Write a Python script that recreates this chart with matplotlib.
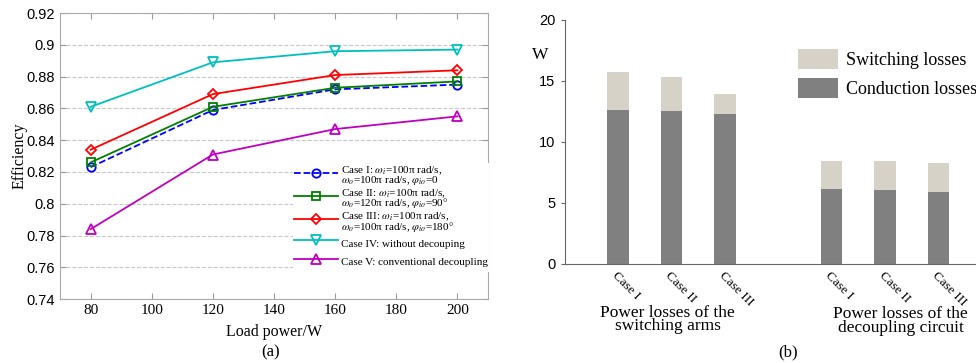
import numpy as np
import matplotlib.pyplot as plt

# data
load_power = [80, 120, 160, 200]
eff_case1 = [0.823, 0.859, 0.872, 0.875]
eff_case2 = [0.826, 0.861, 0.873, 0.877]
eff_case3 = [0.834, 0.869, 0.881, 0.884]
eff_case4 = [0.861, 0.889, 0.896, 0.897]
eff_case5 = [0.784, 0.831, 0.847, 0.855]

bar_pos = [1, 2, 3, 5, 6, 7]
bar_labels = ['Case I', 'Case II', 'Case III', 'Case I', 'Case II', 'Case III']
conduction = [12.6, 12.5, 12.3, 6.15, 6.05, 5.9]
switching = [3.1, 2.8, 1.6, 2.25, 2.35, 2.35]

serif = 'Liberation Serif'
sans = 'Liberation Sans'
plt.rcParams['mathtext.fontset'] = 'stix'

fig = plt.figure(figsize=(9.76, 3.63), dpi=100)

# (a) efficiency
ax1 = fig.add_axes([0.0615, 0.176, 0.4385, 0.788])
lw, ms = 1.3, 6
ax1.plot(load_power, eff_case1, '--o', color='#0000ff', lw=lw, ms=ms, mfc='none', mew=1.3,
         label='Case I: $\\omega_i$=100π rad/s,\n$\\omega_o$=100π rad/s, $\\varphi_{io}$=0')
ax1.plot(load_power, eff_case2, '-s', color='#008000', lw=lw, ms=ms, mfc='none', mew=1.3,
         label='Case II: $\\omega_i$=100π rad/s,\n$\\omega_o$=120π rad/s, $\\varphi_{io}$=90°')
ax1.plot(load_power, eff_case3, '-D', color='#ff0000', lw=lw, ms=ms - 0.5, mfc='none', mew=1.3,
         label='Case III: $\\omega_i$=100π rad/s,\n$\\omega_o$=100π rad/s, $\\varphi_{io}$=180°')
ax1.plot(load_power, eff_case4, '-v', color='#00bfbf', lw=lw, ms=ms + 1, mfc='none', mew=1.3,
         label='Case IV: without decouping')
ax1.plot(load_power, eff_case5, '-^', color='#bf00bf', lw=lw, ms=ms + 1, mfc='none', mew=1.3,
         label='Case V: conventional decoupling')
ax1.set_xlim(70, 210)
ax1.set_ylim(0.74, 0.92)
ax1.set_xticks([80, 100, 120, 140, 160, 180, 200])
ax1.set_yticks(np.arange(0.74, 0.921, 0.02))
ax1.set_yticklabels(['0.74', '0.76', '0.78', '0.8', '0.82', '0.84', '0.86', '0.88', '0.9', '0.92'],
                    family=sans, fontsize=10.5)
for t in ax1.get_xticklabels():
    t.set_family(serif)
    t.set_fontsize(11)
ax1.yaxis.grid(True, ls='--', color='#c8c8c8', lw=0.8)
ax1.tick_params(direction='in', top=True, right=True, color='#999999', length=4)
for s in ax1.spines.values():
    s.set_color('#aaaaaa')
ax1.set_xlabel('Load power/W', family=serif, fontsize=11.5, labelpad=5)
ax1.set_ylabel('Efficiency', family=serif, fontsize=11.5, labelpad=-1)
leg = ax1.legend(loc='lower right', bbox_to_anchor=(1.003, 0.095), frameon=True, framealpha=1,
                 edgecolor='none', fancybox=False, prop={'family': serif, 'size': 8},
                 handlelength=4.0, handleheight=2.15, handletextpad=0.25, labelspacing=0.02,
                 borderpad=0.1, borderaxespad=0)
for t in leg.get_texts():
    t.set_linespacing(0.68)
fig.text(0.277, 0.03, '(a)', family=serif, fontsize=12, ha='center', va='center')

# (b) power losses
ax2 = fig.add_axes([0.5785, 0.273, 0.4215, 0.672])
ax2.bar(bar_pos, conduction, width=0.4, color='#808080', label='Conduction losses')
ax2.bar(bar_pos, switching, width=0.4, bottom=conduction, color='#d6d2c8',
        label='Switching losses')
ax2.set_xlim(0, 7.7)
ax2.set_ylim(0, 20)
ax2.set_yticks([0, 5, 10, 15, 20])
ax2.set_yticklabels(['0', '5', '10', '15', '20'], family=sans, fontsize=10.5)
ax2.set_xticks(bar_pos)
ax2.set_xticklabels(bar_labels, rotation=-45, ha='left', va='top', rotation_mode='anchor',
                    family=serif, fontsize=9.5)
ax2.tick_params(axis='x', length=0, pad=4)
ax2.tick_params(axis='y', direction='out', length=3, color='#666666')
ax2.spines['top'].set_visible(False)
ax2.spines['right'].set_visible(False)
ax2.spines['left'].set_color('#666666')
ax2.spines['bottom'].set_color('#666666')
ax2.text(-0.45, 17.1, 'W', family=serif, fontsize=12.5, ha='center', va='center')
h, l = ax2.get_legend_handles_labels()
ax2.legend(h[::-1], l[::-1], loc='upper left', bbox_to_anchor=(0.567, 0.88), frameon=False,
           prop={'family': serif, 'size': 13}, handlelength=2.2, handleheight=1.3,
           handletextpad=0.45, labelspacing=0.5, borderaxespad=0, borderpad=0)
fig.text(0.684, 0.12, 'Power losses of the\nswitching arms', family=serif, fontsize=12.5,
         ha='center', va='center', linespacing=0.8)
fig.text(0.923, 0.115, 'Power losses of the\ndecoupling circuit', family=serif, fontsize=12.5,
         ha='center', va='center', linespacing=0.8)
fig.text(0.807, 0.03, '(b)', family=serif, fontsize=12, ha='center', va='center')

fig.savefig('out.png', dpi=100)
